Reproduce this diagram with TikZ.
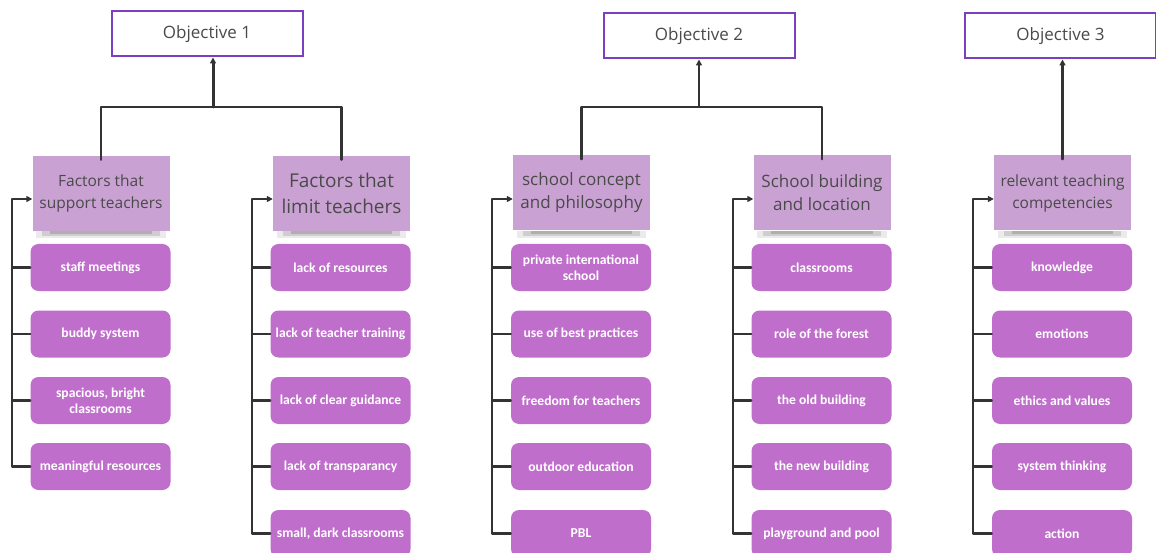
\documentclass[tikz,border=0pt]{standalone}
\usepackage{fontspec}
\setmainfont{Open Sans}
\newfontfamily\itemfont{Carlito}
\usetikzlibrary{arrows.meta}
\definecolor{objborder}{HTML}{7B3FC4}
\definecolor{stickyfill}{HTML}{C9A2D3}
\definecolor{itemfill}{HTML}{BF6FCB}
\definecolor{linecol}{HTML}{333333}
\definecolor{txtcol}{HTML}{4A4A4A}
\tikzset{
  objbox/.style={draw=objborder, line width=2pt, fill=white, minimum width=191pt, minimum height=45pt, inner sep=0pt, text=txtcol, font=\fontsize{17}{20}\selectfont},
  sticky/.style={fill=stickyfill, minimum width=137pt, minimum height=75pt, inner sep=2pt, align=center, text=txtcol, font=\fontsize{15.5}{22}\selectfont},
  itembox/.style={fill=itemfill, rounded corners=8pt, minimum width=140pt, minimum height=47pt, inner sep=1pt, align=center, text=white, font=\itemfont\bfseries\fontsize{13.6}{16}\selectfont},
  conn/.style={draw=linecol, line width=2.2pt, line cap=round, line join=round},
  tipped/.style={conn, -{Triangle[length=6pt,width=6pt]}},
}
\newcommand{\stickyshadow}[1]{%
  \fill[black, opacity=0.08] ([xshift=4pt,yshift=0pt]#1.south west) rectangle ([xshift=-4pt,yshift=-7pt]#1.south east);
  \fill[black, opacity=0.12] ([xshift=10pt,yshift=0pt]#1.south west) rectangle ([xshift=-10pt,yshift=-5pt]#1.south east);
  \fill[black, opacity=0.15] ([xshift=18pt,yshift=0pt]#1.south west) rectangle ([xshift=-18pt,yshift=-3pt]#1.south east);
}
\begin{document}
\begin{tikzpicture}[x=1pt,y=-1pt]
\useasboundingbox (0,0) rectangle (1156,553);

% objectives
\node[objbox] (o1) at (207,34) {Objective 1};
\node[objbox] (o2) at (699,36) {Objective 2};
\node[objbox] (o3) at (1060.5,36) {Objective 3};

% sticky notes
\node[sticky] (s1) at (101,193.5) {Factors that\\support teachers};
\node[sticky, font=\fontsize{19}{26}\selectfont] (s2) at (341.5,193.5) {Factors that\\limit teachers};
\node[sticky, font=\fontsize{17}{23}\selectfont] (s3) at (581.5,193) {school concept\\and philosophy};
\node[sticky, font=\fontsize{17}{23}\selectfont] (s4) at (822,193) {School building\\and location};
\node[sticky] (s5) at (1062.5,193) {relevant teaching\\competencies};
\foreach \s in {s1,s2,s3,s4,s5} {\stickyshadow{\s}}

% items column 1
\node[itembox] (a1) at (100.5,267.5) {staff meetings};
\node[itembox] (a2) at (100.5,334) {buddy system};
\node[itembox] (a3) at (100.5,400.5) {spacious, bright\\classrooms};
\node[itembox] (a4) at (100.5,466.5) {meaningful resources};
% column 2
\node[itembox] (b1) at (340.5,267.5) {lack of resources};
\node[itembox] (b2) at (340.5,334) {lack of teacher training};
\node[itembox] (b3) at (340.5,400.5) {lack of clear guidance};
\node[itembox] (b4) at (340.5,466.5) {lack of transparancy};
\node[itembox] (b5) at (340.5,533.5) {small, dark classrooms};
% column 3
\node[itembox] (c1) at (581,267.5) {private international\\school};
\node[itembox] (c2) at (581,334) {use of best practices};
\node[itembox] (c3) at (581,400.5) {freedom for teachers};
\node[itembox] (c4) at (581,466.5) {outdoor education};
\node[itembox] (c5) at (581,533.5) {PBL};
% column 4
\node[itembox] (d1) at (821.5,267.5) {classrooms};
\node[itembox] (d2) at (821.5,334) {role of the forest};
\node[itembox] (d3) at (821.5,400.5) {the old building};
\node[itembox] (d4) at (821.5,466.5) {the new building};
\node[itembox] (d5) at (821.5,533.5) {playground and pool};
% column 5
\node[itembox] (e1) at (1062,267.5) {knowledge};
\node[itembox] (e2) at (1062,334) {emotions};
\node[itembox] (e3) at (1062,400.5) {ethics and values};
\node[itembox] (e4) at (1062,466.5) {system thinking};
\node[itembox] (e5) at (1062,533.5) {action};

% tree connectors to objectives
\coordinate (j1) at (213,107);
\coordinate (j2) at (699,107);
\draw[conn] ([yshift=-4pt]s1.north) |- (j1);
\draw[conn] ([yshift=-4pt]s2.north) |- (j1);
\draw[tipped, line width=3pt] (j1) -- (j1 |- o1.south);
\draw[conn] ([yshift=-4pt]s3.north) |- (j2);
\draw[conn] ([yshift=-4pt]s4.north) |- (j2);
\draw[tipped] (j2) -- (o2.south);
\draw[tipped] ([yshift=-4pt]s5.north) -- (s5.north |- o3.south);

% brackets
\coordinate (k1) at (12,199);
\coordinate (k2) at (252,199);
\coordinate (k3) at (492,199);
\coordinate (k4) at (733,199);
\coordinate (k5) at (973,199);

\draw[tipped] (a4.west) -| (k1) -- (k1 -| s1.west);
\foreach \n in {a1,a2,a3} \draw[conn] (\n.west) -- (\n.west -| k1);
\draw[tipped] (b5.west) -| (k2) -- (k2 -| s2.west);
\foreach \n in {b1,b2,b3,b4} \draw[conn] (\n.west) -- (\n.west -| k2);
\draw[tipped] (c5.west) -| (k3) -- (k3 -| s3.west);
\foreach \n in {c1,c2,c3,c4} \draw[conn] (\n.west) -- (\n.west -| k3);
\draw[tipped] (d5.west) -| (k4) -- (k4 -| s4.west);
\foreach \n in {d1,d2,d3,d4} \draw[conn] (\n.west) -- (\n.west -| k4);
\draw[tipped] (e5.west) -| (k5) -- (k5 -| s5.west);
\foreach \n in {e1,e2,e3,e4} \draw[conn] (\n.west) -- (\n.west -| k5);
\end{tikzpicture}
\end{document}
